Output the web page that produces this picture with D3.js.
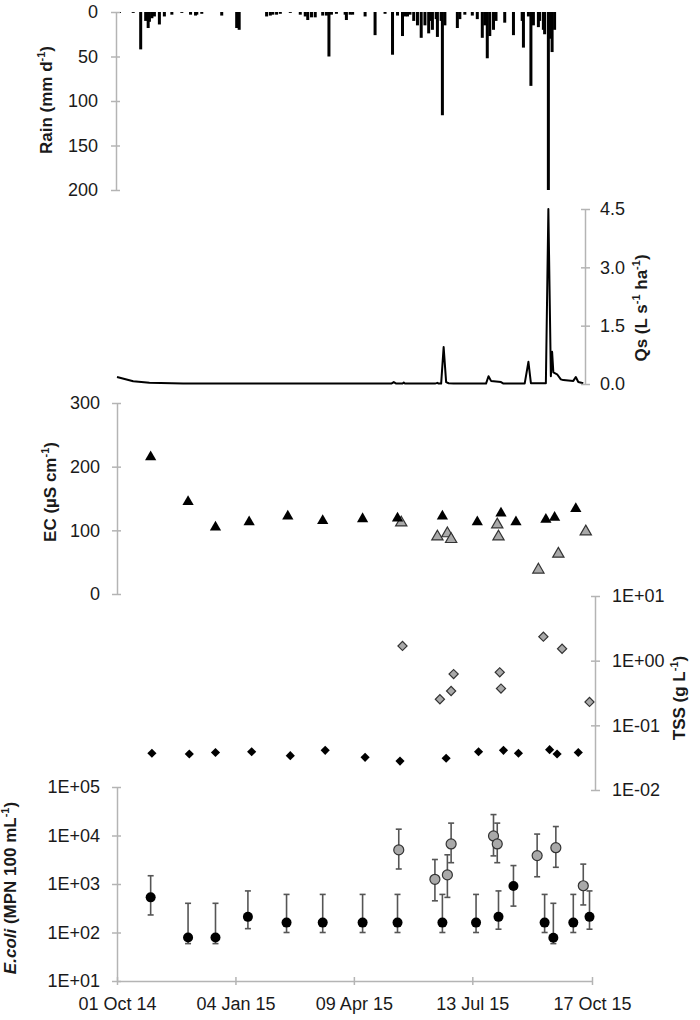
<!DOCTYPE html>
<html>
<head>
<meta charset="utf-8">
<script src="https://cdnjs.cloudflare.com/ajax/libs/d3/7.8.5/d3.min.js"></script>
<style>
  body { margin: 0; background: #fff; }
  svg { font-family: Arial, 'Liberation Sans', sans-serif; }
</style>
</head>
<body>
<svg></svg>
<script>
// daily rain (mm)
let rainDates = ['2014-10-03','2014-10-14','2014-10-20','2014-10-24','2014-10-26','2014-10-27','2014-10-29','2014-10-31','2014-11-04','2014-11-08',
  '2014-11-14','2014-11-22','2014-11-29','2014-12-03','2014-12-04','2014-12-08','2014-12-24','2015-01-05','2015-01-07','2015-01-29',
  '2015-02-01','2015-02-03','2015-02-06','2015-02-09','2015-02-17','2015-02-25','2015-03-01','2015-03-03','2015-03-06','2015-03-09',
  '2015-03-15','2015-03-18','2015-03-20','2015-03-22','2015-03-26','2015-04-02','2015-04-03','2015-04-06','2015-04-08','2015-04-18',
  '2015-04-26','2015-05-04','2015-05-10','2015-05-14','2015-05-18','2015-05-20','2015-05-22','2015-05-24','2015-05-27','2015-05-30',
  '2015-06-02','2015-06-05','2015-06-08','2015-06-10','2015-06-11','2015-06-14','2015-06-15','2015-06-18','2015-06-19','2015-06-21',
  '2015-07-01','2015-07-03','2015-07-07','2015-07-13','2015-07-17','2015-07-21','2015-07-23','2015-07-25','2015-07-27','2015-07-30',
  '2015-08-01','2015-08-08','2015-08-15','2015-08-22','2015-08-23','2015-08-27','2015-08-29','2015-08-31','2015-09-04','2015-09-05',
  '2015-09-08','2015-09-09','2015-09-12','2015-09-13','2015-09-15','2015-09-17'];
let rainValues = [1,1,42,10,18,11,7,5,14,5, 3,1,3,4,3,2,4,18,20,5, 4,3,3,2,1,3,5,9,6,6, 4,4,50,3,2,3,9,3,3,5,
  26,2,48,4,27,5,5,3,10,15, 29,15,24,10,20,8,28,10,116,15, 18,8,3,4,8,29,15,52,27,20, 10,12,26,10,40,5,83,15,17,10,
  20,25,200,30,45,20];

// specific discharge (L s-1 ha-1)
let qsDates = ['2014-10-01','2014-10-14','2014-10-27','2014-11-23','2015-05-09','2015-05-11','2015-05-13','2015-05-18','2015-05-19','2015-05-20',
  '2015-06-13','2015-06-15','2015-06-16','2015-06-18','2015-06-20','2015-06-22','2015-06-24','2015-06-28','2015-07-24','2015-07-26',
  '2015-07-28','2015-08-05','2015-08-07','2015-08-24','2015-08-27','2015-08-29','2015-09-10','2015-09-12','2015-09-14','2015-09-15',
  '2015-09-16','2015-09-19','2015-09-22','2015-09-24','2015-10-02','2015-10-04','2015-10-06','2015-10-10'];
let qsValues = [0.18,0.07,0.03,0.01,0.01,0.05,0.01,0.01,0.04,0.01, 0.01,0.03,0.01,0.01,0.95,0.05,0.02,0.01,0.01,0.2,
  0.08,0.05,0.01,0.01,0.57,0.02,0.02,4.5,0.2,0.83, 0.3,0.25,0.12,0.1,0.08,0.18,0.05,0.02];

// EC (uS cm-1): base flow (black) and storm (grey)
let ecDates = ['2014-10-28','2014-11-27','2014-12-19','2015-01-15','2015-02-15','2015-03-15','2015-04-16','2015-05-14','2015-06-19','2015-07-17',
  '2015-08-05','2015-08-17','2015-09-10','2015-09-17','2015-10-04'];
let ecValues = [215,145,105,113,122,115,118,119,122,113,127,113,117,120,134];
let ecStormDates = ['2015-05-17','2015-06-15','2015-06-23','2015-06-26','2015-08-02','2015-08-03','2015-09-04','2015-09-20','2015-10-12'];
let ecStormValues = [112,90,95,86,109,90,38,63,98];

// TSS (g L-1)
let tssDates = ['2014-10-29','2014-11-28','2014-12-19','2015-01-17','2015-02-17','2015-03-17','2015-04-18','2015-05-16','2015-06-22','2015-07-18',
  '2015-08-07','2015-08-19','2015-09-13','2015-09-19','2015-10-06'];
let tssValues = [0.037,0.036,0.038,0.039,0.034,0.041,0.032,0.028,0.031,0.039,0.041,0.037,0.042,0.036,0.038];
let tssStormDates = ['2015-05-18','2015-06-17','2015-06-26','2015-06-28','2015-08-04','2015-08-05','2015-09-08','2015-09-23','2015-10-15'];
let tssStormValues = [1.69,0.253,0.34,0.62,0.66,0.37,2.35,1.53,0.23];

// E.coli (MPN 100 mL-1) with error bar limits
let ecoliDates = ['2014-10-28','2014-11-27','2014-12-19','2015-01-14','2015-02-14','2015-03-15','2015-04-16','2015-05-14','2015-06-19','2015-07-16',
  '2015-08-03','2015-08-15','2015-09-09','2015-09-16','2015-10-02','2015-10-15'];
let ecoliValues = [530,79,79,210,160,160,160,160,160,160,210,910,160,78,160,210];
let ecoliHigh = [1480,400,400,720,610,610,610,610,610,610,720,2400,610,400,610,720];
let ecoliLow = [230,59,59,120,100,100,100,100,100,100,117,350,100,59,100,117];
let ecoliStormDates = ['2015-05-15','2015-06-13','2015-06-23','2015-06-26','2015-07-30','2015-08-02','2015-09-03','2015-09-18','2015-10-10'];
let ecoliStormValues = [5050,1250,1540,6700,9800,6700,3850,5600,920];
let ecoliStormHigh = [13500,3200,4000,18000,27000,18000,10700,15300,2570];
let ecoliStormLow = [2040,450,530,2750,3800,2750,1410,2210,370];

let xTickDates = ['2014-10-01','2015-01-04','2015-04-09','2015-07-13','2015-10-17'];

let width = 700;
let height = 1020;
let axisColor = '#b4b4b4';
let greyFill = '#a9a9a9';
let greyStroke = '#333';

let parse = d3.timeParse('%Y-%m-%d');
let svg = d3.select('svg').attr('width', width).attr('height', height);

let xScale = d3.scaleTime()
               .domain([parse('2014-10-01'), parse('2015-10-17')])
               .range([117, 592]);

let rainScale = d3.scaleLinear().domain([0, 200]).range([12, 190]);
let qsScale = d3.scaleLinear().domain([0, 4.5]).range([384, 209]);
let ecScale = d3.scaleLinear().domain([0, 300]).range([594, 403]);
let tssScale = d3.scaleLog().domain([0.01, 10]).range([790, 596]);
let ecoliScale = d3.scaleLog().domain([10, 1e5]).range([981, 787]);

let sci = (d) => {
    let e = Math.round(Math.log10(d));
    return '1E' + (e < 0 ? '-' : '+') + String(Math.abs(e)).padStart(2, '0');
}

// draw an axis and make ticks cross the axis line
let drawAxis = (axis, tx, ty, side) => {
    let g = svg.append('g')
               .attr('transform', 'translate(' + tx + ',' + ty + ')')
               .call(axis);
    g.attr('font-size', 18).attr('font-family', null);
    g.select('.domain').attr('stroke', axisColor).attr('stroke-width', 1.5);
    g.selectAll('.tick line').attr('stroke', axisColor).attr('stroke-width', 1.5);
    g.selectAll('.tick text').attr('fill', '#1a1a1a');
    if (side == 'left') g.selectAll('.tick line').attr('x1', 4);
    if (side == 'right') g.selectAll('.tick line').attr('x1', -4);
    if (side == 'bottom') g.selectAll('.tick line').attr('y1', -4);
    return g;
}

let drawTitle = (x, y, parts) => {
    let t = svg.append('text')
               .attr('transform', 'translate(' + x + ',' + y + ') rotate(-90)')
               .attr('text-anchor', 'middle')
               .attr('font-size', 17)
               .attr('font-weight', 'bold')
               .attr('fill', '#1a1a1a');
    parts.forEach((p) => {
        let s = t.append('tspan').text(p.text);
        if (p.sup) s.attr('font-size', 11).attr('dy', -7);
        if (p.after) s.attr('dy', 7);
        if (p.italic) s.attr('font-style', 'italic');
    });
}

// ---- Rain ----
svg.append('g')
   .selectAll('rect')
   .data(rainDates)
   .enter()
   .append('rect')
   .attr('x', (d) => xScale(parse(d)) - 1.5)
   .attr('y', rainScale(0))
   .attr('width', 3)
   .attr('height', (d, i) => rainScale(rainValues[i]) - rainScale(0))
   .attr('fill', '#000');

drawAxis(d3.axisLeft(rainScale).tickValues([0, 50, 100, 150, 200]).tickSize(5).tickSizeOuter(0).tickPadding(13), 116, 0, 'left');
drawTitle(52, 100, [{text: 'Rain (mm d'}, {text: '-1', sup: true}, {text: ')', after: true}]);

// ---- Qs ----
let qsLine = d3.line()
               .x((d) => xScale(parse(d)))
               .y((d, i) => qsScale(qsValues[i]));
svg.append('path')
   .attr('d', qsLine(qsDates))
   .attr('fill', 'none')
   .attr('stroke', '#000')
   .attr('stroke-width', 2)
   .attr('stroke-linejoin', 'round');

drawAxis(d3.axisRight(qsScale).tickValues([0, 1.5, 3, 4.5]).tickFormat(d3.format('.1f')).tickSize(5).tickSizeOuter(0).tickPadding(10), 585, 0, 'right');
drawTitle(647, 308, [{text: 'Qs (L s'}, {text: '-1', sup: true}, {text: ' ha', after: true}, {text: '-1', sup: true}, {text: ')', after: true}]);

// ---- EC ----
let tri = d3.symbol().type(d3.symbolTriangle).size(55);
svg.append('g')
   .selectAll('path')
   .data(ecStormDates)
   .enter()
   .append('path')
   .attr('d', tri)
   .attr('transform', (d, i) => 'translate(' + xScale(parse(d)) + ',' + ecScale(ecStormValues[i]) + ')')
   .attr('fill', greyFill)
   .attr('stroke', greyStroke)
   .attr('stroke-width', 1.2);
svg.append('g')
   .selectAll('path')
   .data(ecDates)
   .enter()
   .append('path')
   .attr('d', tri)
   .attr('transform', (d, i) => 'translate(' + xScale(parse(d)) + ',' + ecScale(ecValues[i]) + ')')
   .attr('fill', '#000');

drawAxis(d3.axisLeft(ecScale).tickValues([0, 100, 200, 300]).tickSize(5).tickSizeOuter(0).tickPadding(12), 117, 0, 'left');
drawTitle(56, 492, [{text: 'EC (\u00b5S cm'}, {text: '-1', sup: true}, {text: ')', after: true}]);

// ---- TSS ----
let dia = d3.symbol().type(d3.symbolSquare).size(42);
svg.append('g')
   .selectAll('path')
   .data(tssStormDates)
   .enter()
   .append('path')
   .attr('d', dia)
   .attr('transform', (d, i) => 'translate(' + xScale(parse(d)) + ',' + tssScale(tssStormValues[i]) + ') rotate(45)')
   .attr('fill', greyFill)
   .attr('stroke', greyStroke)
   .attr('stroke-width', 1.2);
svg.append('g')
   .selectAll('path')
   .data(tssDates)
   .enter()
   .append('path')
   .attr('d', dia)
   .attr('transform', (d, i) => 'translate(' + xScale(parse(d)) + ',' + tssScale(tssValues[i]) + ') rotate(45)')
   .attr('fill', '#000');

drawAxis(d3.axisRight(tssScale).tickValues([10, 1, 0.1, 0.01]).tickFormat(sci).tickSize(5).tickSizeOuter(0).tickPadding(12), 595, 0, 'right');
drawTitle(685, 698, [{text: 'TSS (g L'}, {text: '-1', sup: true}, {text: ')', after: true}]);

// ---- E.coli ----
let drawErrorBars = (dates, high, low) => {
    let g = svg.append('g').attr('stroke', '#555').attr('stroke-width', 1.6);
    dates.forEach((d, i) => {
        let x = xScale(parse(d));
        g.append('line').attr('x1', x).attr('x2', x).attr('y1', ecoliScale(high[i])).attr('y2', ecoliScale(low[i]));
        g.append('line').attr('x1', x - 3).attr('x2', x + 3).attr('y1', ecoliScale(high[i])).attr('y2', ecoliScale(high[i]));
        g.append('line').attr('x1', x - 3).attr('x2', x + 3).attr('y1', ecoliScale(low[i])).attr('y2', ecoliScale(low[i]));
    });
}
drawErrorBars(ecoliStormDates, ecoliStormHigh, ecoliStormLow);
drawErrorBars(ecoliDates, ecoliHigh, ecoliLow);

svg.append('g')
   .selectAll('circle')
   .data(ecoliStormDates)
   .enter()
   .append('circle')
   .attr('cx', (d) => xScale(parse(d)))
   .attr('cy', (d, i) => ecoliScale(ecoliStormValues[i]))
   .attr('r', 5)
   .attr('fill', greyFill)
   .attr('stroke', greyStroke)
   .attr('stroke-width', 1.2);
svg.append('g')
   .selectAll('circle')
   .data(ecoliDates)
   .enter()
   .append('circle')
   .attr('cx', (d) => xScale(parse(d)))
   .attr('cy', (d, i) => ecoliScale(ecoliValues[i]))
   .attr('r', 5)
   .attr('fill', '#000');

drawAxis(d3.axisLeft(ecoliScale).tickValues([1e1, 1e2, 1e3, 1e4, 1e5]).tickFormat(sci).tickSize(5).tickSizeOuter(0).tickPadding(12), 117, 0, 'left');
drawAxis(d3.axisBottom(xScale).tickValues(xTickDates.map(parse)).tickFormat(d3.timeFormat('%d %b %y')).tickSize(4).tickSizeOuter(0).tickPadding(12), 0, 981, 'bottom');
drawTitle(16, 888, [{text: 'E.coli', italic: true}, {text: ' (MPN 100 mL'}, {text: '-1', sup: true}, {text: ')', after: true}]);
</script>
</body>
</html>
